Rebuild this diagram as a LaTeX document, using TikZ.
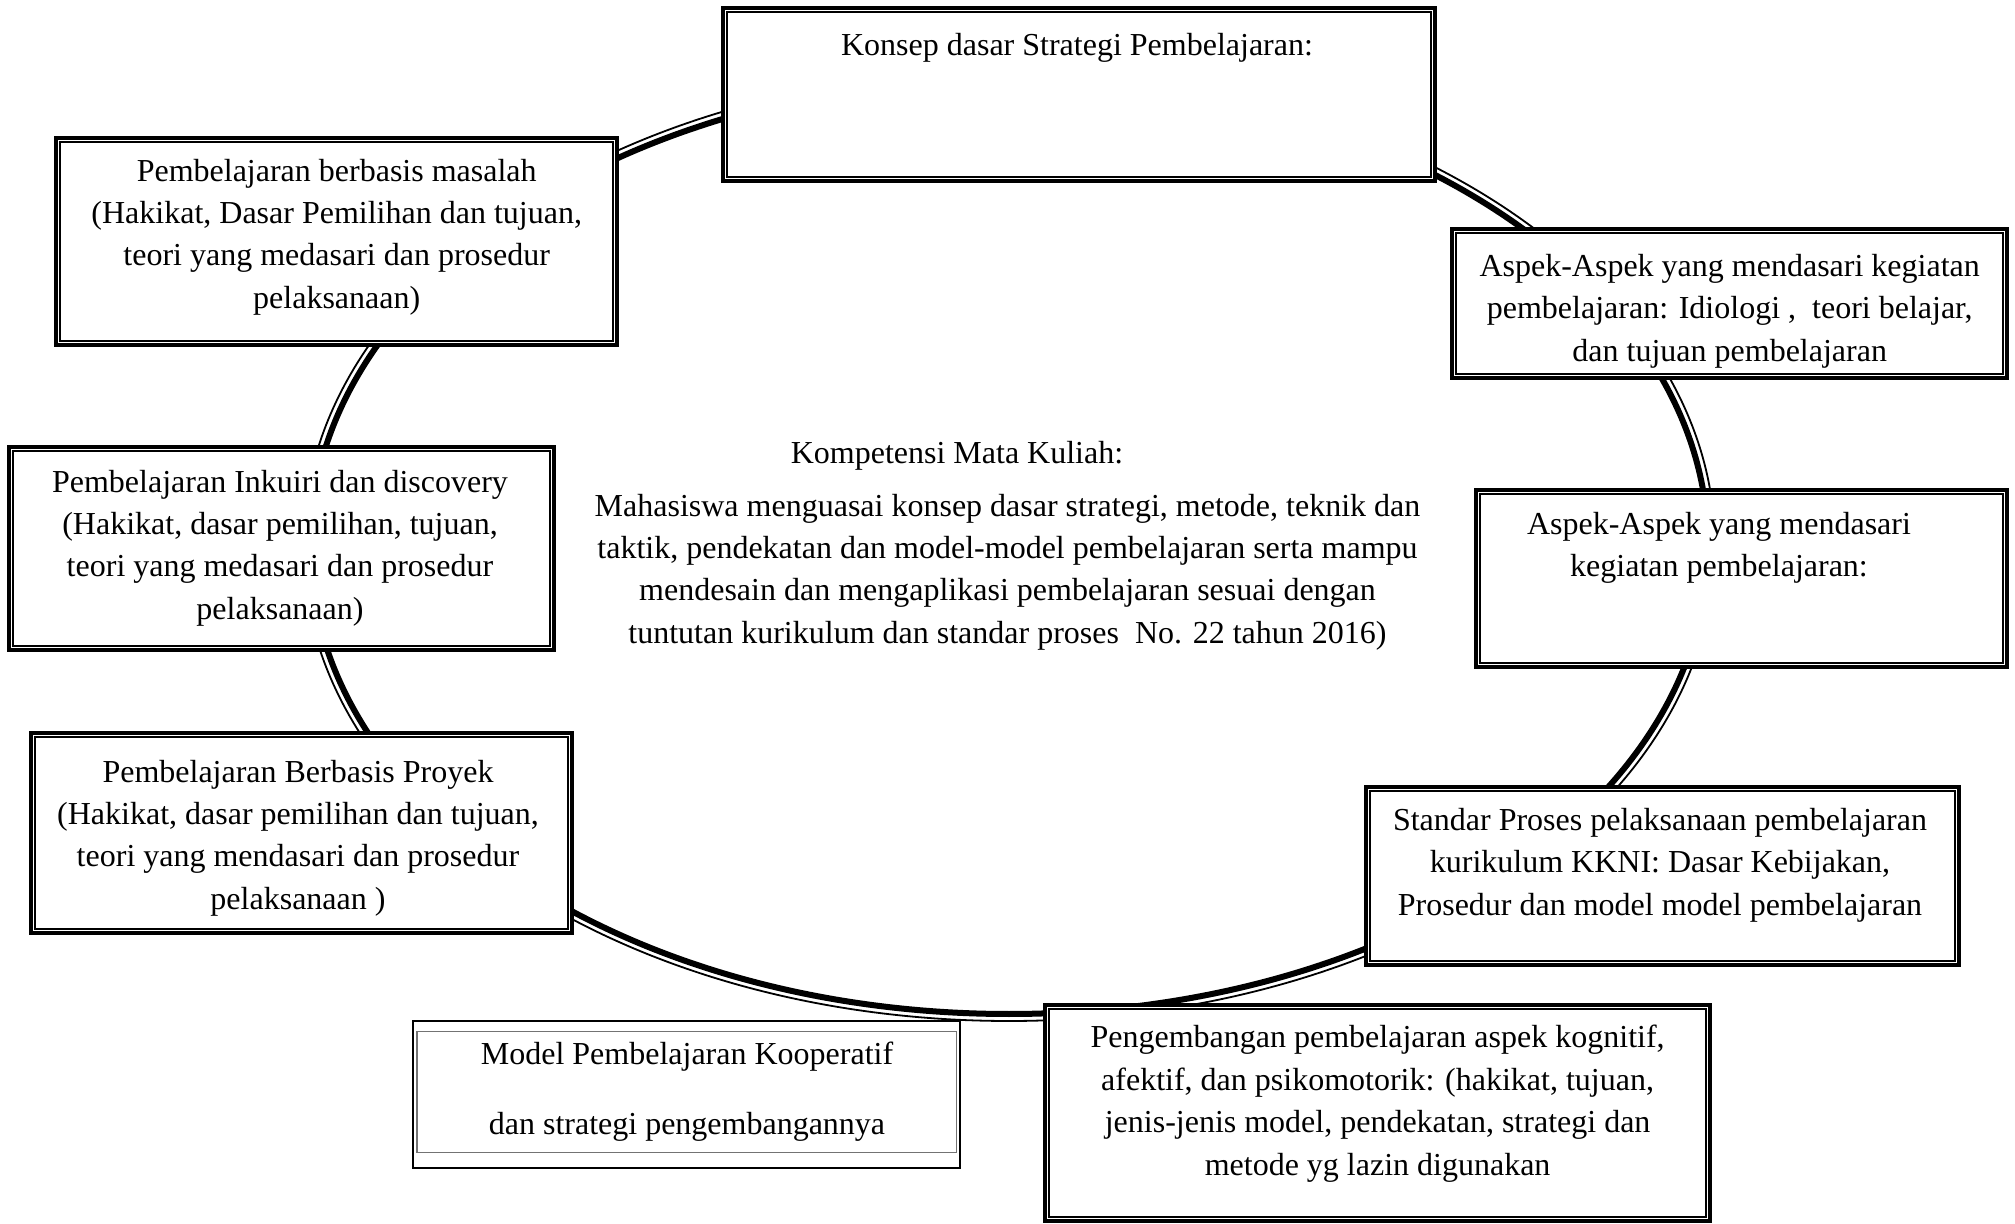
\documentclass[tikz,border=0pt]{standalone}
\usepackage{fontspec}
\setmainfont{Liberation Serif}
\usetikzlibrary{fit}
\begin{document}
\begin{tikzpicture}[x=0.5pt,y=-0.5pt,
  frame/.style={draw, line width=1.6pt, fill=white, inner sep=0pt},
  innerframe/.style={draw, line width=1pt},
  thinframe/.style={draw, line width=1.1pt, fill=white, inner sep=0pt},
  lbl/.style={align=center, inner sep=0pt, font=\fontsize{16pt}{21.2pt}\selectfont},
  ringthick/.style={line width=3pt},
  ringthin/.style={line width=0.9pt}]
\useasboundingbox (0,0) rectangle (2015,1224);
% ring connecting all topics
\draw[ringthick] (1009,546) ellipse [x radius=699, y radius=468];
\draw[ringthin] (1009,546) ellipse [x radius=706, y radius=475];
% boxes
\node[frame, fit={(723,8) (1435,181)}] (konsep) {};
\node[frame, fit={(56,138) (617,345)}] (pbm) {};
\node[frame, fit={(1452,229) (2007,378)}] (aspekA) {};
\node[frame, fit={(9,447) (554,650)}] (inkuiri) {};
\node[frame, fit={(1476,490) (2007,667)}] (aspekB) {};
\node[frame, fit={(31,733) (572,933)}] (proyek) {};
\node[frame, fit={(1366,787) (1959,965)}] (standar) {};
\node[frame, fit={(1045,1005) (1710,1221)}] (kembang) {};
\node[thinframe, fit={(413,1021) (960,1168)}] (model) {};
\foreach \n in {konsep,pbm,aspekA,inkuiri,aspekB,proyek,standar,kembang}
  \draw[innerframe] ([shift={(2.8pt,2.8pt)}]\n.south west) rectangle ([shift={(-2.8pt,-2.8pt)}]\n.north east);
\draw[line width=0.6pt, black!55] ([shift={(2.5pt,8.3pt)}]model.south west) rectangle ([shift={(-2.5pt,-5.8pt)}]model.north east);
% texts
\node[lbl] (tkonsep) at (1077,47.5) {Konsep dasar Strategi Pembelajaran:};
\node[lbl] (tpbm) at (336.7,237) {Pembelajaran berbasis masalah\\(Hakikat, Dasar Pemilihan dan tujuan,\\teori yang medasari dan prosedur\\pelaksanaan)};
\node[lbl] (taspekA) at (1729.7,311) {Aspek-Aspek yang mendasari kegiatan\\pembelajaran: Idiologi ,\ \ teori belajar,\\dan tujuan pembelajaran};
\node[lbl] (tinkuiri) at (280,548) {Pembelajaran Inkuiri dan discovery\\(Hakikat, dasar pemilihan, tujuan,\\teori yang medasari dan prosedur\\pelaksanaan)};
\node[lbl] (taspekB) at (1719,548) {Aspek-Aspek yang mendasari\\kegiatan pembelajaran:};
\node[lbl] (tproyek) at (298,838) {Pembelajaran Berbasis Proyek\\(Hakikat, dasar pemilihan dan tujuan,\\teori yang mendasari dan prosedur\\pelaksanaan )};
\node[lbl] (tstandar) at (1660,865) {Standar Proses pelaksanaan pembelajaran\\kurikulum KKNI: Dasar Kebijakan,\\Prosedur dan model model pembelajaran};
\node[lbl] (tmodel) at (687,1092) {Model Pembelajaran Kooperatif\\[13.8pt] dan strategi pengembangannya};
\node[lbl] (tkembang) at (1377.6,1103.6) {Pengembangan pembelajaran aspek kognitif,\\afektif, dan psikomotorik: (hakikat, tujuan,\\jenis-jenis model, pendekatan, strategi dan\\metode yg lazin digunakan};
\node[lbl] (tkomp) at (957,456) {Kompetensi Mata Kuliah:};
\node[lbl] (tmhs) at (1007.5,572) {Mahasiswa menguasai konsep dasar strategi, metode, teknik dan\\taktik, pendekatan dan model-model pembelajaran serta mampu\\mendesain dan mengaplikasi pembelajaran sesuai dengan\\tuntutan kurikulum dan standar proses\ \ No. 22 tahun 2016)};
\end{tikzpicture}
\end{document}
